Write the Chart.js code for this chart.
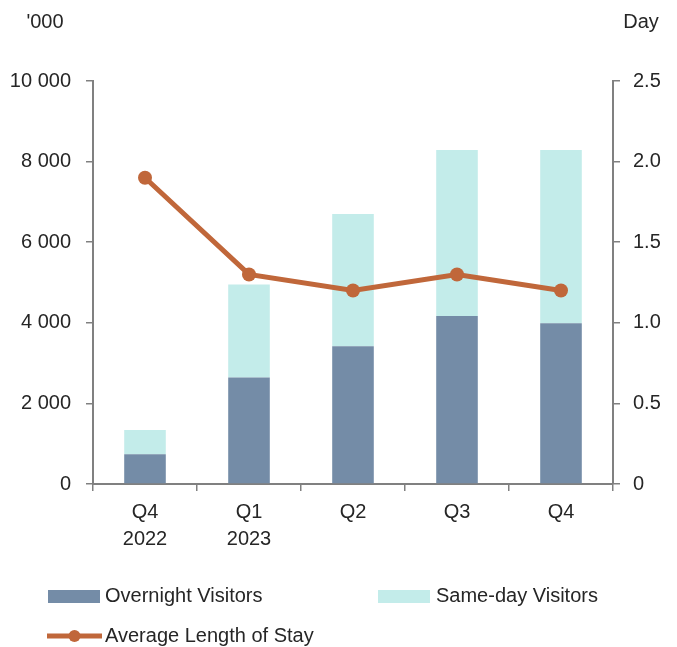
<!DOCTYPE html>
<html>
<head>
<meta charset="utf-8">
<script src="https://cdn.jsdelivr.net/npm/chart.js@4"></script>
<style>
  html, body { margin: 0; padding: 0; background: #fff; }
  #wrap { position: relative; width: 677px; height: 647px; }
</style>
</head>
<body>
<div id="wrap"><canvas id="c" width="677" height="647"></canvas></div>
<script>
const categories = [["Q4", "2022"], ["Q1", "2023"], "Q2", "Q3", "Q4"];
const overnightVisitors = [740, 2640, 3420, 4170, 3990];
const sameDayVisitors = [600, 2310, 3280, 4120, 4300];
const avgLengthOfStay = [1.9, 1.3, 1.2, 1.3, 1.2];
const leftAxisTitle = "'000";
const rightAxisTitle = "Day";
const seriesNames = ["Overnight Visitors", "Same-day Visitors", "Average Length of Stay"];

const COL_OVER = '#748CA7';
const COL_SAME = '#C3ECEA';
const COL_LINE = '#C0673A';
const AXIS = '#808080';
const TXT = '#262626';
const FONT = '"Liberation Sans", Arial, sans-serif';
const FS = 20;

const overlay = {
  id: 'overlay',
  afterDraw(chart) {
    const ctx = chart.ctx;
    ctx.save();
    ctx.fillStyle = TXT;
    ctx.font = FS + 'px ' + FONT;
    ctx.textBaseline = 'middle';
    ctx.textAlign = 'center';
    ctx.fillText(leftAxisTitle, 45, 22);
    ctx.fillText(rightAxisTitle, 641, 22);
    // legend
    ctx.textAlign = 'left';
    ctx.fillStyle = COL_OVER;
    ctx.fillRect(48, 590, 52, 13);
    ctx.fillStyle = COL_SAME;
    ctx.fillRect(378, 590, 52, 13);
    ctx.strokeStyle = COL_LINE;
    ctx.lineWidth = 5;
    ctx.beginPath();
    ctx.moveTo(47, 636);
    ctx.lineTo(102, 636);
    ctx.stroke();
    ctx.fillStyle = COL_LINE;
    ctx.beginPath();
    ctx.arc(74.5, 636, 6, 0, Math.PI * 2);
    ctx.fill();
    ctx.fillStyle = TXT;
    ctx.fillText(seriesNames[0], 105, 596);
    ctx.fillText(seriesNames[1], 436, 596);
    ctx.fillText(seriesNames[2], 105, 636);
    ctx.restore();
  }
};

new Chart(document.getElementById('c'), {
  type: 'bar',
  data: {
    labels: categories,
    datasets: [
      { type: 'line', label: seriesNames[2], data: avgLengthOfStay, yAxisID: 'y1',
        borderColor: COL_LINE, backgroundColor: COL_LINE, borderWidth: 5,
        pointRadius: 7, pointBackgroundColor: COL_LINE, pointBorderWidth: 0,
        tension: 0, order: 0 },
      { label: seriesNames[0], data: overnightVisitors, backgroundColor: COL_OVER,
        yAxisID: 'y', stack: 's', order: 1, barPercentage: 0.4, categoryPercentage: 1 },
      { label: seriesNames[1], data: sameDayVisitors, backgroundColor: COL_SAME,
        yAxisID: 'y', stack: 's', order: 1, barPercentage: 0.4, categoryPercentage: 1 }
    ]
  },
  options: {
    responsive: false,
    animation: false,
    layout: { padding: { top: 81, bottom: 73, left: 0, right: 0 } },
    plugins: { legend: { display: false }, tooltip: { enabled: false } },
    scales: {
      x: {
        stacked: true,
        offset: true,
        grid: { display: true, offset: true, drawOnChartArea: false, drawTicks: true,
                tickLength: 7, color: AXIS, lineWidth: 1.5 },
        border: { display: true, color: AXIS, width: 2 },
        ticks: { color: TXT, font: { family: FONT, size: FS, lineHeight: 1.35 },
                 padding: 8, maxRotation: 0, autoSkip: false },
        afterFit(s) { s.height = 90; }
      },
      y: {
        position: 'left',
        stacked: true,
        min: 0, max: 10000,
        grid: { drawOnChartArea: false, drawTicks: true, tickLength: 7, color: AXIS, lineWidth: 1.5 },
        border: { display: true, color: AXIS, width: 2 },
        ticks: { stepSize: 2000, color: TXT, padding: 15, font: { family: FONT, size: FS },
                 callback: v => String(v).replace(/\B(?=(\d{3})+(?!\d))/g, ' ') },
        afterFit(s) { s.width = 93; }
      },
      y1: {
        position: 'right',
        stacked: false,
        min: 0, max: 2.5,
        grid: { drawOnChartArea: false, drawTicks: true, tickLength: 7, color: AXIS, lineWidth: 1.5 },
        border: { display: true, color: AXIS, width: 2 },
        ticks: { stepSize: 0.5, color: TXT, padding: 13, font: { family: FONT, size: FS },
                 callback: v => v === 0 ? '0' : v.toFixed(1) },
        afterFit(s) { s.width = 64; }
      }
    }
  },
  plugins: [overlay]
});
</script>
</body>
</html>
